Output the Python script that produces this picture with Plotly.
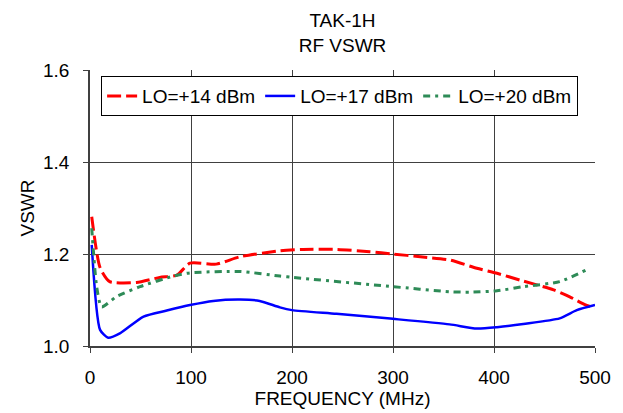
import plotly.graph_objects as go

freq_14 = [1.7, 10, 19.5, 46, 69, 86, 99, 125, 148.5, 188, 211, 244, 277, 300, 327, 356, 383, 403, 426, 459, 475, 490, 500]
vswr_14 = [1.281, 1.17, 1.14, 1.138, 1.149, 1.154, 1.18, 1.178, 1.194, 1.207, 1.21, 1.21, 1.205, 1.2, 1.194, 1.187, 1.169, 1.158, 1.143, 1.122, 1.107, 1.09, 1.082]

freq_17 = [1.7, 10, 18, 30, 53, 76, 99, 122, 148.5, 168, 188, 200, 244, 300, 356, 383, 403, 429, 465, 482, 500]
vswr_17 = [1.22, 1.035, 1.018, 1.028, 1.064, 1.077, 1.089, 1.098, 1.101, 1.098, 1.084, 1.078, 1.07, 1.059, 1.047, 1.038, 1.041, 1.048, 1.06, 1.078, 1.089]

freq_20 = [1.7, 6.6, 11.5, 26, 49.5, 82.5, 99, 148.5, 188, 201, 300, 356, 376, 403, 429, 465, 491]
vswr_20 = [1.256, 1.129, 1.085, 1.107, 1.129, 1.152, 1.159, 1.162, 1.152, 1.149, 1.129, 1.118, 1.117, 1.12, 1.129, 1.14, 1.165]

x_ticks = [0, 100, 200, 300, 400, 500]
y_ticks = [1.0, 1.2, 1.4, 1.6]

font = "Liberation Sans, Arial, sans-serif"

fig = go.Figure()
fig.add_trace(go.Scatter(x=freq_14, y=vswr_14, mode="lines", name="LO=+14 dBm",
                         line=dict(color="#FF0000", width=3, dash="14px,5px", shape="spline", smoothing=0.6)))
fig.add_trace(go.Scatter(x=freq_17, y=vswr_17, mode="lines", name="LO=+17 dBm",
                         line=dict(color="#0000FF", width=2.5, shape="spline", smoothing=0.6)))
fig.add_trace(go.Scatter(x=freq_20, y=vswr_20, mode="lines", name="LO=+20 dBm",
                         line=dict(color="#2E8B57", width=3, dash="7px,5px,3px,5px", shape="spline", smoothing=0.6)))

fig.update_layout(
    width=615, height=405,
    margin=dict(l=82, r=28, t=62, b=67, autoexpand=False),
    paper_bgcolor="white", plot_bgcolor="white",
    font=dict(family=font, size=19, color="black"),
    title=dict(text="TAK-1H<br>RF VSWR", x=0.5, xref="paper", xanchor="center",
               y=0.953, yref="container", yanchor="top", pad=dict(t=0, b=0),
               font=dict(family=font, size=19, color="black")),
    showlegend=True,
    legend=dict(orientation="h", x=0.022, y=0.978, xanchor="left", yanchor="top",
                bgcolor="white", bordercolor="black", borderwidth=1,
                font=dict(family=font, size=19), itemwidth=30, tracegroupgap=0),
    xaxis=dict(range=[0, 500], tickvals=x_ticks, showgrid=True, gridcolor="#404040", gridwidth=1,
               showline=True, linecolor="#404040", linewidth=1.5, ticks="outside", ticklen=5,
               tickcolor="#404040", zeroline=False, ticklabelstandoff=8, automargin=False,
               title=dict(text="FREQUENCY (MHz)", standoff=3, font=dict(size=19))),
    yaxis=dict(range=[1.0, 1.6], tickvals=y_ticks, tickformat=".1f", showgrid=True, gridcolor="#404040",
               gridwidth=1, showline=True, linecolor="#404040", linewidth=1.5, ticks="outside",
               ticklen=5, tickcolor="#404040", zeroline=False, ticklabelstandoff=10, automargin=False,
               title=dict(text="VSWR", standoff=3, font=dict(size=19))),
)

fig.write_html("out.html")
